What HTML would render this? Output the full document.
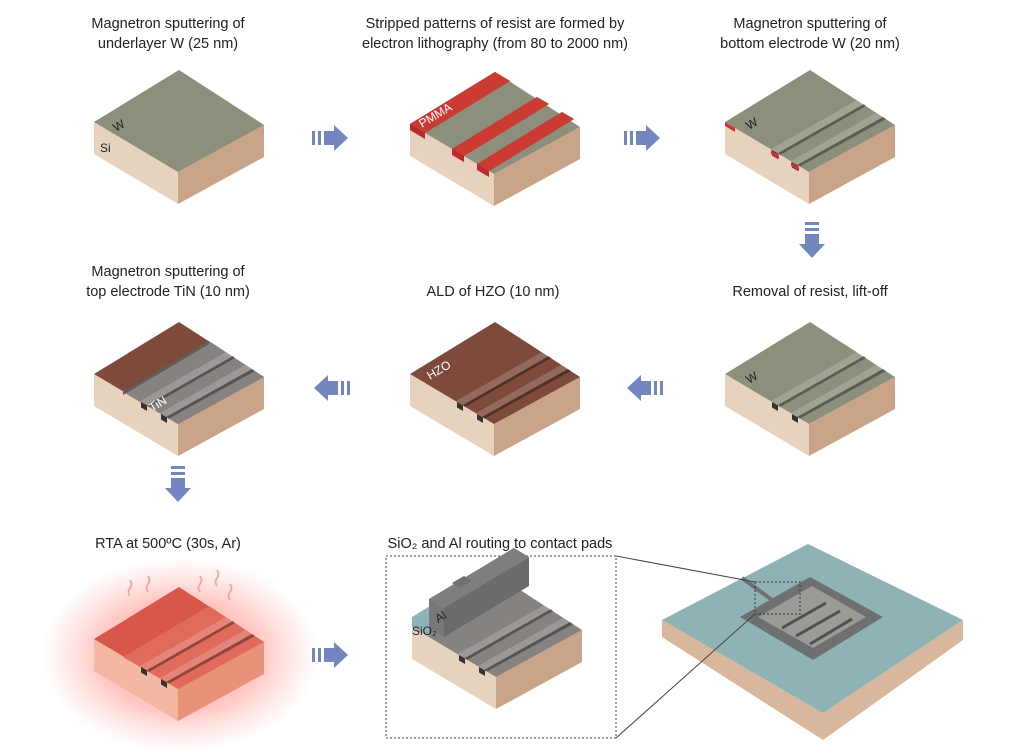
<!DOCTYPE html>
<html><head><meta charset="utf-8"><style>
html,body{margin:0;padding:0;background:#fff}
svg{display:block}
text{font-family:"Liberation Sans",sans-serif;fill:#222}
.t{font-size:14.5px;text-anchor:middle}
.l{font-size:12px;fill:#222}
</style></head><body>
<svg width="1024" height="755" viewBox="0 0 1024 755">
<defs>
<radialGradient id="glow" cx="50%" cy="50%" r="50%">
<stop offset="0" stop-color="#ff7060" stop-opacity=".75"/>
<stop offset=".6" stop-color="#ff8a80" stop-opacity=".45"/>
<stop offset="1" stop-color="#ffb0a8" stop-opacity="0"/>
</radialGradient>
<g id="base">
<polygon points="0,52 84,102 84,134 0,84" fill="#e6d2bd"/>
<polygon points="84,102 170,55 170,87 84,134" fill="#c9a488"/>
</g>
<g id="ridges">
<polygon points="46,79 132,30 139,34 53,83" fill="#fff" opacity=".18"/>
<polygon points="53,83 139,34 141,36 55,85" fill="#000" opacity=".35"/>
<polygon points="47,80 53,83.5 53,89 47,85.5" fill="#333"/>
<polygon points="66,91 151,43 158,47 72,95" fill="#fff" opacity=".18"/>
<polygon points="72,95 158,47 161,49 75,96.5" fill="#000" opacity=".35"/>
<polygon points="67,92 73,95.5 73,101 67,97.5" fill="#333"/>
</g>
<g id="arrow"><rect x="0" y="-7" width="3" height="14" fill="#7486c0"/><rect x="6" y="-7" width="3" height="14" fill="#7486c0"/><rect x="12" y="-7" width="10" height="14" fill="#7486c0"/><polygon points="22,-13 36,0 22,13" fill="#7486c0"/></g>
</defs>

<text class="t" x="168" y="28">Magnetron sputtering of</text>
<text class="t" x="168" y="48">underlayer W (25 nm)</text>
<text class="t" x="495" y="28">Stripped patterns of resist are formed by</text>
<text class="t" x="495" y="48">electron lithography (from 80 to 2000 nm)</text>
<text class="t" x="810" y="28">Magnetron sputtering of</text>
<text class="t" x="810" y="48">bottom electrode W (20 nm)</text>
<text class="t" x="168" y="276">Magnetron sputtering of</text>
<text class="t" x="168" y="296">top electrode TiN (10 nm)</text>
<text class="t" x="493" y="296">ALD of HZO (10 nm)</text>
<text class="t" x="810" y="296">Removal of resist, lift-off</text>
<text class="t" x="168" y="548">RTA at 500ºC (30s, Ar)</text>
<text class="t" x="500" y="548">SiO₂ and Al routing to contact pads</text>

<!-- B1 -->
<g transform="translate(94,70)"><use href="#base"/><polygon points="85,0 170,55 84,102 0,52" fill="#8c8f7c"/>
<text class="l" x="6" y="82">Si</text><text class="l" transform="translate(22,62) rotate(-31)">W</text></g>
<!-- B2 -->
<g transform="translate(410,72)"><use href="#base"/><polygon points="85,0 170,55 84,102 0,52" fill="#8c8f7c"/>
<polygon points="0,52 85,0 100,9 15,61 15,67 0,58" fill="#b92a2a"/><polygon points="0,52 85,0 100,9 15,61" fill="#cc3a34"/>
<polygon points="42,77 127,25 139,32 54,84 54,90 42,83" fill="#b92a2a"/><polygon points="42,77 127,25 139,32 54,84" fill="#cc3a34"/>
<polygon points="67,92 152,40 164,47 79,99 79,105 67,98" fill="#b92a2a"/><polygon points="67,92 152,40 164,47 79,99" fill="#cc3a34"/>
<text class="l" style="fill:#fff" transform="translate(12,56) rotate(-31)">PMMA</text></g>
<!-- B3 -->
<g transform="translate(725,70)"><use href="#base"/><polygon points="85,0 170,55 84,102 0,52" fill="#8c8f7c"/><use href="#ridges"/>
<polygon points="0,52 10,58 10,62 0,56" fill="#c33"/><polygon points="46,80 54,85 54,89 46,84" fill="#c33"/><polygon points="66,92 74,97 74,101 66,96" fill="#c33"/>
<text class="l" transform="translate(24,60) rotate(-31)">W</text></g>
<!-- B4 -->
<g transform="translate(725,322)"><use href="#base"/><polygon points="85,0 170,55 84,102 0,52" fill="#8c8f7c"/><use href="#ridges"/>
<text class="l" transform="translate(24,62) rotate(-31)">W</text></g>
<!-- B5 -->
<g transform="translate(410,322)"><use href="#base"/><polygon points="85,0 170,55 84,102 0,52" fill="#7d4a3c"/><use href="#ridges"/>
<text class="l" style="fill:#fff" transform="translate(20,58) rotate(-31)">HZO</text></g>
<!-- B6 -->
<g transform="translate(94,322)"><use href="#base"/><polygon points="85,0 170,55 84,102 0,52" fill="#7d4a3c"/>
<polygon points="29,70 115,19 170,55 84,102" fill="#858280"/><polygon points="29,70 115,19 115,22 29,73" fill="#5f5d5b"/><use href="#ridges"/>
<text class="l" style="fill:#fff" transform="translate(58,90) rotate(-31)">TiN</text></g>
<!-- B7 RTA -->
<ellipse cx="180" cy="655" rx="140" ry="98" fill="url(#glow)"/>
<g transform="translate(94,587)"><polygon points="0,52 84,102 84,134 0,84" fill="#f4b7a1"/><polygon points="84,102 170,55 170,87 84,134" fill="#e8927a"/>
<polygon points="85,0 170,55 84,102 0,52" fill="#d9574a"/><polygon points="29,70 115,19 170,55 84,102" fill="#e06a5c"/><use href="#ridges"/></g>
<g stroke="#f2a89e" stroke-width="1.8" fill="none"><path d="M130 596 q-3 -4 0 -8 q3 -4 0 -8"/><path d="M148 592 q-3 -4 0 -8 q3 -4 0 -8"/><path d="M200 592 q-3 -4 0 -8 q3 -4 0 -8"/><path d="M217 586 q-3 -4 0 -8 q3 -4 0 -8"/><path d="M230 600 q-3 -4 0 -8 q3 -4 0 -8"/></g>
<!-- B8 -->
<rect x="386" y="556" width="230" height="182" fill="none" stroke="#444" stroke-dasharray="2,2"/>
<g transform="translate(412,575)"><use href="#base"/><polygon points="85,0 170,55 84,102 0,52" fill="#858280"/><use href="#ridges"/>
<polygon points="0,42 85,-10 102,1 17,52 17,62 0,52" fill="#8db3b6"/>
<polygon points="17,52 102,1 102,-27 17,24" fill="#8a8b8c"/>
<polygon points="17,24 102,-27 117,-18 32,33" fill="#7d7e80"/>
<polygon points="32,33 117,-18 117,11 32,62" fill="#6a6b6d"/>
<polygon points="17,24 32,33 32,62 17,53" fill="#77787a"/>
<polygon points="40,8 52,1 60,6 48,13" fill="#6f7072"/>
<text class="l" transform="translate(26,48) rotate(-31)">Al</text><text class="l" x="0" y="60">SiO₂</text></g>
<!-- big -->
<polygon points="662,620 823,713 963,620 963,640 823,740 662,637" fill="#d9b79c"/>
<polygon points="662,620 808,544 963,620 823,713" fill="#8fb3b4"/>
<polygon points="740,617 810,577 883,617 813,660" fill="#6e6f70"/>
<polygon points="758,617 812,586 866,617 813,648" fill="#9c9a94"/>
<g stroke="#505152" stroke-width="3"><line x1="782" y1="628" x2="826" y2="603"/><line x1="796" y1="636" x2="840" y2="611"/><line x1="810" y1="644" x2="852" y2="619"/></g>
<line x1="742" y1="578" x2="772" y2="600" stroke="#707172" stroke-width="4"/>
<rect x="755" y="582" width="45" height="32" fill="none" stroke="#333" stroke-dasharray="2,2"/>
<line x1="616" y1="556" x2="755" y2="582" stroke="#444"/><line x1="616" y1="738" x2="755" y2="614" stroke="#444"/>
<!-- arrows -->
<use href="#arrow" transform="translate(312,138)"/>
<use href="#arrow" transform="translate(624,138)"/>
<use href="#arrow" transform="translate(812,222) rotate(90)"/>
<use href="#arrow" transform="translate(663,388) rotate(180)"/>
<use href="#arrow" transform="translate(350,388) rotate(180)"/>
<use href="#arrow" transform="translate(178,466) rotate(90)"/>
<use href="#arrow" transform="translate(312,655)"/>
</svg>
</body></html>
